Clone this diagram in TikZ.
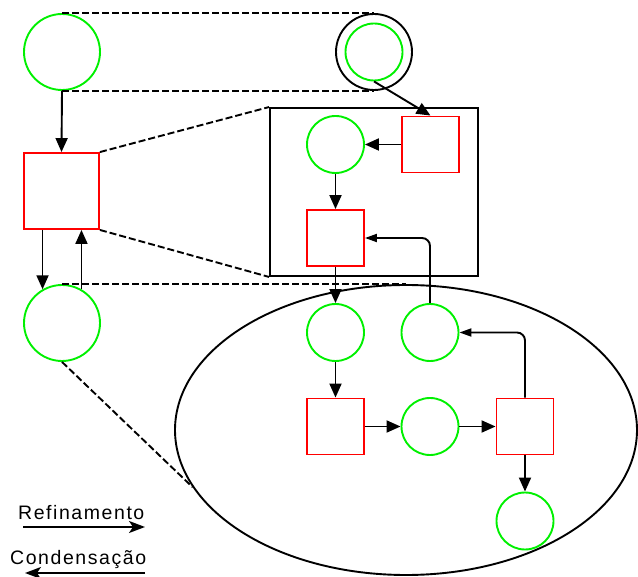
\documentclass[tikz,border=0pt]{standalone}
\usepackage{fontspec}
\setmainfont{Liberation Sans}
\usetikzlibrary{arrows.meta,shapes.geometric,calc}
\definecolor{pgreen}{RGB}{0,240,0}
\definecolor{tred}{RGB}{255,0,0}
\begin{document}
\begin{tikzpicture}[x=1pt,y=-1pt,
  place/.style={circle,draw=pgreen,line width=1.9pt,minimum size=#1,inner sep=0pt},
  place/.default=57pt,
  trans/.style={rectangle,draw=tred,line width=1.9pt,minimum width=57pt,minimum height=56pt,inner sep=0pt},
  arr/.style={line width=1.9pt,-{Triangle[length=14pt,width=12pt]}},
  arrs/.style={line width=1.9pt,-{Triangle[length=12pt,width=8pt]}},
  legarr/.style={line width=1.9pt,-{Stealth[length=16pt,width=12pt,inset=4pt]}},
  dsh/.style={line width=1.9pt,dash pattern=on 7pt off 3pt},
  frame/.style={draw,line width=1.9pt,inner sep=0pt},
  legend/.style={font=\fontsize{19.5}{22}\selectfont\addfontfeature{LetterSpace=8},anchor=base west,inner sep=0pt}
  ]
\useasboundingbox (0,0) rectangle (638,577);

% left column
\node[place=76pt] (P1) at (62,52) {};
\node[trans,minimum width=75pt,minimum height=76pt] (T1) at (61.5,191) {};
\node[place=76pt] (P3) at (62,323) {};

% top right double circle
\node[frame,circle,minimum size=76pt] (DC) at (374,52) {};
\node[place] (DCin) at (374,52) {};

% refinement box
\node[frame,rectangle,minimum width=208pt,minimum height=168pt] (Box) at (374,192) {};
\node[place] (Q1) at (335.5,144.5) {};
\node[trans] (T2) at (430.5,144.5) {};
\node[trans] (T3) at (335.5,238) {};

% ellipse
\node[frame,ellipse,minimum width=462pt,minimum height=290pt] (E) at (406,430) {};
\node[place] (P4) at (335.5,332.5) {};
\node[place] (P5) at (430,332.5) {};
\node[trans] (T4) at (335.5,426.5) {};
\node[place] (P6) at (430,426.5) {};
\node[trans] (T5) at (525,426.5) {};
\node[place] (P7) at (525,521) {};

% dashed correspondences
\draw[dsh] (P1.north) -- (DC.north);
\draw[dsh] (P1.south) -- (DC.south);
\draw[dsh] (T1.north east) -- (Box.north west);
\draw[dsh] (T1.south east) -- (Box.south west);
\draw[dsh] (P3.north) -- (P3.north -| E.north);
\draw[dsh] (P3.south) -- (E.195);

% arcs
\draw[arr] (P1.south) -- (T1.north);
\draw[arr] (P3.120 |- T1.south) -- (P3.120);
\draw[arr] (P3.60) -- (P3.60 |- T1.south);
\draw[arr] (DCin.south) -- (T2.north);
\draw[arr] (T2.west) -- (Q1.east);
\draw[arr] (Q1.south) -- (T3.north);
\draw[arr] (T3.south) -- (P4.north);
\draw[arr] (P4.south) -- (T4.north);
\draw[arr] (T4.east) -- (P6.west);
\draw[arr] (P6.east) -- (T5.west);
\draw[arr] (T5.south) -- (P7.north);
\draw[arrs,rounded corners=8pt] (T5.north) |- (P5.east);
\draw[arrs,rounded corners=8pt] (P5.north) |- (T3.east);

% legend
\node[legend] (L1) at (18,520) {Refinamento};
\coordinate (L1a) at (23,527);
\coordinate (L1b) at (145,527);
\draw[legarr] (L1a) -- (L1b);
\node[legend] (L2) at (10,565) {Condensação};
\coordinate (L2a) at (145,573);
\coordinate (L2b) at (25,573);
\draw[legarr] (L2a) -- (L2b);
\end{tikzpicture}
\end{document}
